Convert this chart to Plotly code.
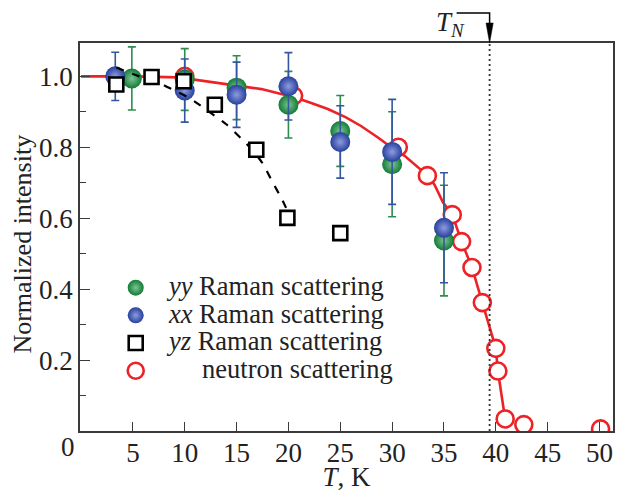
import plotly.graph_objects as go

# --- Raman scattering, yy polarization (normalized intensity with error) ---
t_yy = [4.9, 10.0, 15.0, 20.0, 25.0, 30.0, 35.0]
i_yy = [0.994, 0.991, 0.968, 0.920, 0.846, 0.752, 0.537]
e_yy = [0.089, 0.087, 0.090, 0.094, 0.100, 0.148, 0.156]

# --- Raman scattering, xx polarization ---
t_xx = [3.3, 10.0, 15.0, 20.0, 25.0, 30.0, 35.0]
i_xx = [1.000, 0.960, 0.948, 0.972, 0.815, 0.787, 0.573]
e_xx = [0.068, 0.089, 0.092, 0.095, 0.102, 0.148, 0.155]

# --- Raman scattering, yz polarization ---
t_yz = [3.4, 6.8, 9.9, 12.9, 16.9, 19.9, 25.0]
i_yz = [0.977, 0.998, 0.986, 0.920, 0.793, 0.601, 0.558]

# dashed guide line through the yz points
t_yz_guide = [3.4, 5.6, 7.5, 9.0, 10.5, 12.5, 14.0, 15.4, 16.6, 17.5, 18.5, 19.4, 20.0]
i_yz_guide = [1.025, 1.000, 0.982, 0.960, 0.938, 0.897, 0.865, 0.826, 0.790, 0.755, 0.700, 0.652, 0.615]

# --- neutron scattering ---
t_neu = [10.0, 20.5, 30.6, 33.4, 35.8, 36.7, 37.7, 38.7, 40.0, 40.2, 40.9, 42.7, 50.1]
i_neu = [1.000, 0.945, 0.800, 0.720, 0.610, 0.534, 0.461, 0.362, 0.233, 0.169, 0.034, 0.018, 0.006]

# solid red curve through the neutron data
t_fit = [0.0, 5.0, 9.4, 11.0, 14.2, 17.4, 19.3, 20.5, 22.2, 23.8, 25.5, 27.0, 28.7,
         29.9, 31.2, 32.5, 33.4, 34.1, 34.9, 35.8, 36.7, 37.7, 38.7, 40.0, 40.2, 40.9]
i_fit = [1.000, 1.000, 0.997, 0.990, 0.978, 0.964, 0.950, 0.942, 0.925, 0.908, 0.885, 0.860, 0.826,
         0.800, 0.776, 0.745, 0.721, 0.694, 0.645, 0.610, 0.534, 0.461, 0.362, 0.233, 0.169, 0.034]

T_N = 39.4

x_ticks = [5, 10, 15, 20, 25, 30, 35, 40, 45, 50]
y_ticks = [0.2, 0.4, 0.6, 0.8, 1.0]
y_tick_text = ["0.2", "0.4", "0.6", "0.8", "1.0"]

FONT = "Liberation Serif"
TEXT = "#222222"
RED = "#ec2227"
GREEN = "#137a36"
GREEN_HI = "#7cc692"
GREEN_BAR = "#2e8b4f"
BLUE = "#26409c"
BLUE_HI = "#8e9be0"
BLUE_BAR = "#3456a0"
AXIS = "#3a3a3a"


def leg(label, pad=2):
    return "<span style='font-size:26.5px'>" + "\u00a0" * pad + label + "</span>"


fig = go.Figure()

fig.add_trace(go.Scatter(
    x=t_fit, y=i_fit, mode="lines", line=dict(color=RED, width=2.6),
    showlegend=False, hoverinfo="skip"))

fig.add_trace(go.Scatter(
    x=t_neu, y=i_neu, mode="markers", name=leg("neutron scattering", 7), legendrank=4,
    marker=dict(symbol="circle", size=17, color="white", line=dict(color=RED, width=2.6))))

fig.add_trace(go.Scatter(
    x=t_yy, y=i_yy, mode="markers", name=leg("<i>yy</i> Raman scattering"), legendrank=1,
    error_y=dict(type="data", array=e_yy, color=GREEN_BAR, thickness=1.6, width=4),
    marker=dict(symbol="circle", size=20, color=GREEN, line=dict(width=0),
                gradient=dict(type="radial", color=GREEN_HI))))

fig.add_trace(go.Scatter(
    x=t_xx, y=i_xx, mode="markers", name=leg("<i>xx</i> Raman scattering"), legendrank=2,
    error_y=dict(type="data", array=e_xx, color=BLUE_BAR, thickness=1.6, width=4),
    marker=dict(symbol="circle", size=20, color=BLUE, line=dict(width=0),
                gradient=dict(type="radial", color=BLUE_HI))))

fig.add_trace(go.Scatter(
    x=t_yz_guide, y=i_yz_guide, mode="lines",
    line=dict(color="black", width=2.2, dash="8px,9px", shape="spline", smoothing=0.6),
    showlegend=False, hoverinfo="skip"))

fig.add_trace(go.Scatter(
    x=t_yz, y=i_yz, mode="markers", name=leg("<i>yz</i> Raman scattering"), legendrank=3,
    marker=dict(symbol="square", size=14, color="white", line=dict(color="black", width=2.6))))

# Neel temperature: dotted vertical line and bent arrow above the frame
fig.add_shape(type="line", xref="x", yref="paper", x0=T_N, x1=T_N, y0=0, y1=1,
              line=dict(color="#333333", width=1.8, dash="2px,3px"))
fig.add_shape(type="path", xref="x", yref="paper", xsizemode="pixel", ysizemode="pixel",
              xanchor=T_N, yanchor=1.0, path="M -33,30 L 0,30 L 0,16",
              line=dict(color="black", width=1.5))
fig.add_shape(type="path", xref="x", yref="paper", xsizemode="pixel", ysizemode="pixel",
              xanchor=T_N, yanchor=1.0, path="M -3.6,20 L 3.6,20 L 0,0 Z",
              fillcolor="black", line=dict(color="black", width=0.5))
fig.add_annotation(x=35.6, y=1.050, xref="x", yref="paper", text="<i>T</i><sub><i>N</i></sub>",
                   showarrow=False, font=dict(family=FONT, size=27, color=TEXT),
                   xanchor="center", yanchor="middle")

# origin label shared by both axes
fig.add_annotation(x=0, y=0, xref="x", yref="paper", text="0", showarrow=False,
                   xanchor="center", yanchor="top", xshift=-13, yshift=1,
                   font=dict(family=FONT, size=27, color=TEXT))

# vertical axis title
fig.add_annotation(x=-0.1084, y=0.481, xref="paper", yref="paper", text="Normalized intensity",
                   textangle=-90, showarrow=False, xanchor="center", yanchor="middle",
                   font=dict(family=FONT, size=26, color=TEXT))

fig.update_layout(
    width=617, height=492,
    margin=dict(l=80, r=2, t=43, b=52),
    paper_bgcolor="white", plot_bgcolor="white",
    font=dict(family=FONT, size=27, color=TEXT),
    showlegend=True,
    legend=dict(x=0.067, y=0.418, xanchor="left", yanchor="top",
                bgcolor="rgba(0,0,0,0)", borderwidth=0,
                font=dict(family=FONT, size=19, color=TEXT),
                itemclick=False, itemdoubleclick=False),
    xaxis=dict(range=[-0.1, 51.3], tickvals=x_ticks, ticks="inside", ticklen=9,
               tickwidth=1.3, tickcolor=AXIS, showline=True, linecolor=AXIS, linewidth=1.5,
               mirror=True, showgrid=False, zeroline=False, ticklabelstandoff=-3,
               tickfont=dict(size=27),
               title=dict(text="<i>T</i>, K", font=dict(size=27), standoff=3)),
    yaxis=dict(range=[0, 1.094], tickvals=y_ticks, ticktext=y_tick_text, ticks="inside",
               ticklen=10, tickwidth=1.3, tickcolor=AXIS, showline=True, linecolor=AXIS,
               linewidth=1.5, mirror=True, showgrid=False, zeroline=False,
               ticklabelstandoff=0, tickfont=dict(size=27),
               minor=dict(tickvals=[0.1, 0.3, 0.5, 0.7, 0.9], ticks="inside", ticklen=6,
                          tickwidth=1.3, tickcolor=AXIS, showgrid=False)),
)

fig.write_html("out.html")
